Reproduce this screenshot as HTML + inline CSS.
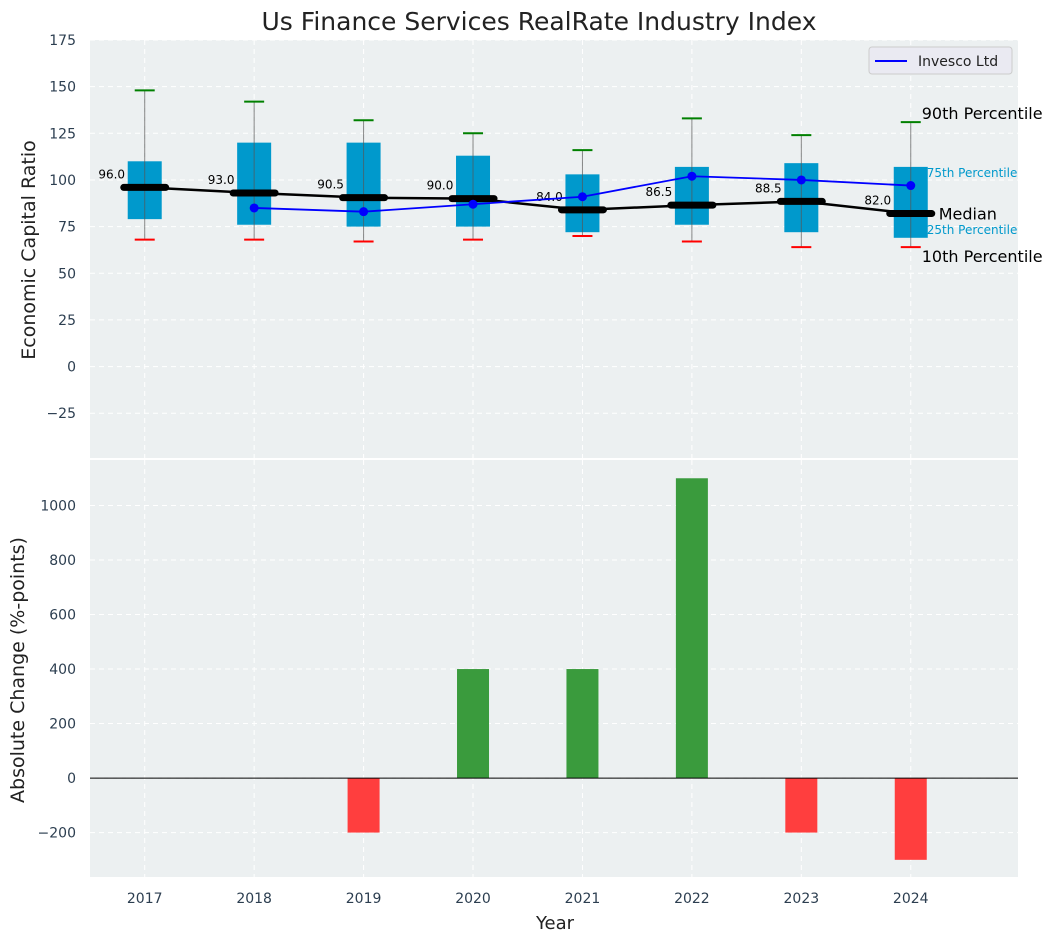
<!DOCTYPE html>
<html><head><meta charset="utf-8"><style>
body{margin:0;background:#fff;font-family:"Liberation Sans","DejaVu Sans",sans-serif;}
</style></head><body>
<svg id="c" width="1057" height="942" xmlns="http://www.w3.org/2000/svg" font-family="DejaVu Sans, Liberation Sans, sans-serif"></svg>
<script>
const years=["2017","2018","2019","2020","2021","2022","2023","2024"];
const p10=[68,68,67,68,70,67,64,64];
const p25=[79,76,75,75,72,76,72,69];
const median=[96,93,90.5,90,84,86.5,88.5,82];
const p75=[110,120,120,113,103,107,109,107];
const p90=[148,142,132,125,116,133,124,131];
const invesco=[null,85,83,87,91,102,100,97];
const change=[0,0,-200,400,400,1100,-200,-300];
const topTicks=[-25,0,25,50,75,100,125,150,175];
const botTicks=[-200,0,200,400,600,800,1000];

const NS="http://www.w3.org/2000/svg";
const svg=document.getElementById('c');
function el(t,a,p){const e=document.createElementNS(NS,t);for(const k in a)e.setAttribute(k,a[k]);(p||svg).appendChild(e);return e;}
const L=90,R=1018;
const x=i=>L+(i+0.5)*(R-L)/8.48;
const T0=40,T1=458,B0=460,B1=877;
const yt=v=>T1-(v+49)/(175+49)*(T1-T0);
const yb=v=>B1-(v+363)/(1167+363)*(B1-B0);

el('rect',{x:L,y:T0,width:R-L,height:T1-T0,fill:'#ecf0f1',});
el('rect',{x:L,y:B0,width:R-L,height:B1-B0,fill:'#ecf0f1',});
years.forEach((y,i)=>{
  el('line',{x1:x(i),x2:x(i),y1:T0,y2:T1,stroke:'#fff','stroke-dasharray':'5,4','stroke-width':1});
  el('line',{x1:x(i),x2:x(i),y1:B0,y2:B1,stroke:'#fff','stroke-dasharray':'5,4','stroke-width':1});
  const t=el('text',{x:x(i),y:903,'font-size':14,fill:'#2c3e50','text-anchor':'middle'});t.textContent=y;
  
});
topTicks.forEach(v=>{
  el('line',{x1:L,x2:R,y1:yt(v),y2:yt(v),stroke:'#fff','stroke-dasharray':'5,4'});
  const t=el('text',{x:76,y:yt(v)+5,'font-size':14,fill:'#2c3e50','text-anchor':'end'});t.textContent=v<0?'\u2212'+(-v):v;
  
});
botTicks.forEach(v=>{
  el('line',{x1:L,x2:R,y1:yb(v),y2:yb(v),stroke:'#fff','stroke-dasharray':'5,4'});
  const t=el('text',{x:76,y:yb(v)+5,'font-size':14,fill:'#2c3e50','text-anchor':'end'});t.textContent=v<0?'\u2212'+(-v):v;
  
});
years.forEach((y,i)=>{
  const g=el('g',{});
  
  el('rect',{x:x(i)-17,y:yt(p75[i]),width:34,height:yt(p25[i])-yt(p75[i]),fill:'#0099cc'},g);
  el('line',{x1:x(i),x2:x(i),y1:yt(p90[i]),y2:yt(p10[i]),stroke:'#555','stroke-opacity':0.7,'stroke-width':1},g);
  el('line',{x1:x(i)-10,x2:x(i)+10,y1:yt(p90[i]),y2:yt(p90[i]),stroke:'green','stroke-width':2},g);
  el('line',{x1:x(i)-10,x2:x(i)+10,y1:yt(p10[i]),y2:yt(p10[i]),stroke:'red','stroke-width':2},g);
});
el('polyline',{points:median.map((m,i)=>x(i)+','+yt(m)).join(' '),fill:'none',stroke:'#000','stroke-width':2.5,});
median.forEach((m,i)=>{
  const l=el('line',{x1:x(i)-21,x2:x(i)+21,y1:yt(m),y2:yt(m),stroke:'#000','stroke-width':7,'stroke-linecap':'round'});
  
  const t=el('text',{x:x(i)-33,y:yt(m)-9,'font-size':12,fill:'#000','text-anchor':'middle'});t.textContent=m.toFixed(1);
  
});
const pts=[];invesco.forEach((v,i)=>{if(v!==null)pts.push(x(i)+','+yt(v));});
el('polyline',{points:pts.join(' '),fill:'none',stroke:'blue','stroke-width':1.8,});
invesco.forEach((v,i)=>{if(v===null)return;const c=el('circle',{cx:x(i),cy:yt(v),r:4.5,fill:'blue'});
  });
const li=7;
function txt(s,xx,yy,fs,fill,name){const t=el('text',{x:xx,y:yy,'font-size':fs,fill:fill});t.textContent=s;}
txt('90th Percentile',x(li)+11,yt(p90[li])-3,16,'#000','p90-annotation');
txt('75th Percentile',x(li)+16,yt(p75[li])+10,12,'#0099cc','p75-annotation');
txt('Median',x(li)+28,yt(median[li])+6,16,'#000','median-annotation');
txt('25th Percentile',x(li)+16,yt(p25[li])-4,12,'#0099cc','p25-annotation');
txt('10th Percentile',x(li)+11,yt(p10[li])+15,16,'#000','p10-annotation');
const lg=el('g',{});
el('rect',{x:869,y:47,width:143,height:27,rx:3,fill:'#eaeaf2',stroke:'#ccc'},lg);
el('line',{x1:875,x2:907,y1:61,y2:61,stroke:'blue','stroke-width':2},lg);
const lt=el('text',{x:918,y:66,'font-size':14,fill:'#222'},lg);lt.textContent='Invesco Ltd';
change.forEach((v,i)=>{if(v===0)return;const r=el('rect',{x:x(i)-16,y:Math.min(yb(v),yb(0)),width:32,height:Math.abs(yb(v)-yb(0)),fill:v>0?'#3a9b3d':'#ff3e3e'});
  });
el('line',{x1:L,x2:R,y1:yb(0),y2:yb(0),stroke:'#000','stroke-width':1,});
txt('Us Finance Services RealRate Industry Index',0,0,25,'#222','chart-title');
svg.lastChild.setAttribute('x',539);svg.lastChild.setAttribute('y',30);svg.lastChild.setAttribute('text-anchor','middle');
const xt=el('text',{x:555,y:929,'font-size':18,fill:'#222','text-anchor':'middle'});xt.textContent='Year';

const y1=el('text',{x:0,y:0,'font-size':19,fill:'#222','text-anchor':'middle',transform:'translate(35,250) rotate(-90)'});y1.textContent='Economic Capital Ratio';

const y2=el('text',{x:0,y:0,'font-size':19,fill:'#222','text-anchor':'middle',transform:'translate(24,670) rotate(-90)'});y2.textContent='Absolute Change (%-points)';

</script>
</body></html>
